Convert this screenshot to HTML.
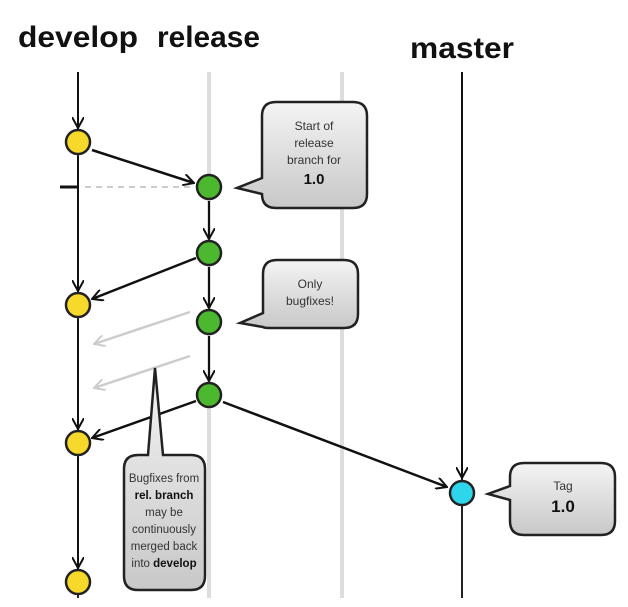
<!DOCTYPE html>
<html><head><meta charset="utf-8"><style>
html,body{margin:0;padding:0;background:#fff;width:628px;height:607px;overflow:hidden}
</style></head><body>
<svg width="628" height="607" viewBox="0 0 628 607" xmlns="http://www.w3.org/2000/svg" font-family="Liberation Sans, sans-serif">
<defs>
<marker id="a" viewBox="0 0 12 12" refX="11" refY="6" markerWidth="12" markerHeight="12" markerUnits="userSpaceOnUse" orient="auto"><path d="M0,0 L11,6 L0,12" fill="none" stroke="#111" stroke-width="2"/></marker>
<marker id="g" viewBox="0 0 12 12" refX="11" refY="6" markerWidth="12" markerHeight="12" markerUnits="userSpaceOnUse" orient="auto"><path d="M0,0 L11,6 L0,12" fill="none" stroke="#ccc" stroke-width="2"/></marker>
<linearGradient id="bg" x1="0" y1="0" x2="0" y2="1"><stop offset="0" stop-color="#f4f4f4"/><stop offset="1" stop-color="#c8c8c8"/></linearGradient>
</defs>
<text x="18" y="47" font-size="30" font-weight="bold" fill="#111" textLength="120" lengthAdjust="spacingAndGlyphs">develop</text>
<text x="157" y="47" font-size="30" font-weight="bold" fill="#111" textLength="103" lengthAdjust="spacingAndGlyphs">release</text>
<text x="410" y="58" font-size="30" font-weight="bold" fill="#111" textLength="104" lengthAdjust="spacingAndGlyphs">master</text>
<line x1="209" y1="72" x2="209" y2="598" stroke="#ddd" stroke-width="4"/>
<line x1="342" y1="72" x2="342" y2="598" stroke="#ddd" stroke-width="4"/>
<line x1="462" y1="72" x2="462" y2="598" stroke="#222" stroke-width="2"/>
<line x1="78" y1="72" x2="78" y2="598" stroke="#222" stroke-width="2"/>
<line x1="85" y1="187" x2="192" y2="187" stroke="#ccc" stroke-width="2" stroke-dasharray="6,5"/>
<line x1="60" y1="187" x2="78" y2="187" stroke="#111" stroke-width="3"/>
<line x1="78" y1="72" x2="78" y2="128" stroke="#111" stroke-width="2" marker-end="url(#a)"/>
<line x1="78" y1="156" x2="78" y2="291" stroke="#111" stroke-width="2" marker-end="url(#a)"/>
<line x1="78" y1="319" x2="78" y2="429" stroke="#111" stroke-width="2" marker-end="url(#a)"/>
<line x1="78" y1="457" x2="78" y2="568" stroke="#111" stroke-width="2" marker-end="url(#a)"/>
<line x1="209" y1="201" x2="209" y2="239" stroke="#111" stroke-width="2" marker-end="url(#a)"/>
<line x1="209" y1="267" x2="209" y2="308" stroke="#111" stroke-width="2" marker-end="url(#a)"/>
<line x1="209" y1="336" x2="209" y2="381" stroke="#111" stroke-width="2" marker-end="url(#a)"/>
<line x1="462" y1="72" x2="462" y2="478" stroke="#111" stroke-width="2" marker-end="url(#a)"/>
<line x1="92" y1="150" x2="194" y2="183" stroke="#111" stroke-width="2.5" marker-end="url(#a)"/>
<line x1="196" y1="258" x2="92" y2="299" stroke="#111" stroke-width="2.5" marker-end="url(#a)"/>
<line x1="196" y1="401" x2="92" y2="438" stroke="#111" stroke-width="2.5" marker-end="url(#a)"/>
<line x1="223" y1="402" x2="447" y2="487" stroke="#111" stroke-width="2.5" marker-end="url(#a)"/>
<line x1="190" y1="312" x2="94" y2="344" stroke="#ccc" stroke-width="2.5" marker-end="url(#g)"/>
<line x1="190" y1="356" x2="94" y2="388" stroke="#ccc" stroke-width="2.5" marker-end="url(#g)"/>
<g stroke="#222" stroke-width="2.5">
<circle cx="78" cy="142" r="12" fill="#f7d92c"/>
<circle cx="78" cy="305" r="12" fill="#f7d92c"/>
<circle cx="78" cy="443" r="12" fill="#f7d92c"/>
<circle cx="78" cy="582" r="12" fill="#f7d92c"/>
<circle cx="209" cy="187" r="12" fill="#4cb830"/>
<circle cx="209" cy="253" r="12" fill="#4cb830"/>
<circle cx="209" cy="322" r="12" fill="#4cb830"/>
<circle cx="209" cy="395" r="12" fill="#4cb830"/>
<circle cx="462" cy="493" r="12" fill="#2fd5ea"/>
</g>
<g fill="url(#bg)" stroke="#222" stroke-width="2.5">
<path d="M276,102 H353 Q367,102 367,116 V194 Q367,208 353,208 H276 Q262,208 262,194 L237,188 L262,178 V116 Q262,102 276,102 Z"/>
<path d="M277,260 H344 Q358,260 358,274 V314 Q358,328 344,328 H272 Q263,328 263,327 L240,323 L263,313 V274 Q263,260 277,260 Z"/>
<path d="M138,455 H148 L155,368 L163,455 H191 Q205,455 205,469 V576 Q205,590 191,590 H138 Q124,590 124,576 V469 Q124,455 138,455 Z"/>
<path d="M524,463 H601 Q615,463 615,477 V521 Q615,535 601,535 H524 Q510,535 510,521 V500 L488,494 L510,486 V477 Q510,463 524,463 Z"/>
</g>
<g font-size="12" fill="#333" text-anchor="middle">
<text x="314" y="130">Start of</text>
<text x="314" y="147">release</text>
<text x="314" y="164">branch for</text>
<text x="314" y="184" font-size="15" font-weight="bold" fill="#111">1.0</text>
<text x="310" y="288">Only</text>
<text x="310" y="305">bugfixes!</text>
<g font-size="11.5">
<text x="164" y="482">Bugfixes from</text>
<text x="164" y="499" font-weight="bold" fill="#111">rel. branch</text>
<text x="164" y="516">may be</text>
<text x="164" y="533">continuously</text>
<text x="164" y="550">merged back</text>
<text x="164" y="567">into <tspan font-weight="bold" fill="#111">develop</tspan></text>
</g>
<text x="563" y="490">Tag</text>
<text x="563" y="512" font-size="17" font-weight="bold" fill="#111">1.0</text>
</g>
</svg>
</body></html>
